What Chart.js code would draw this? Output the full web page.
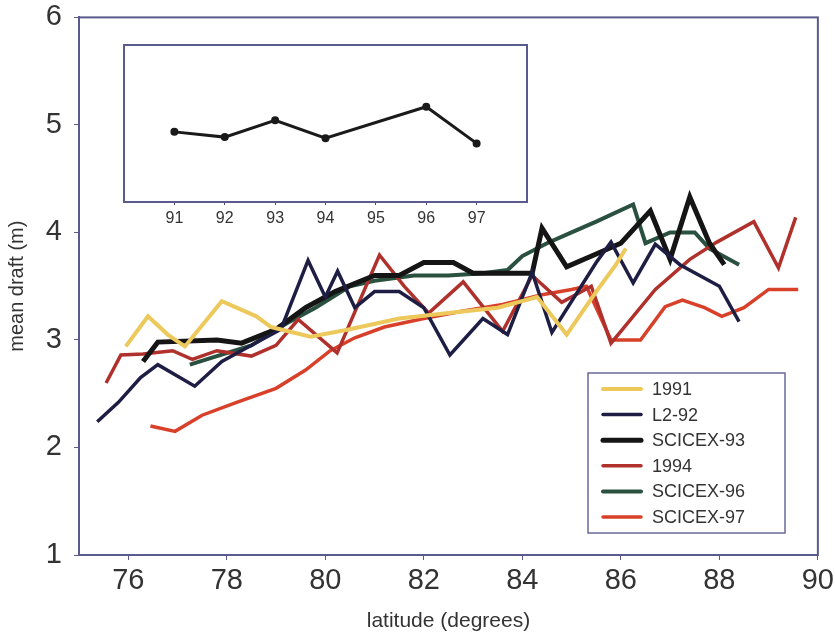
<!DOCTYPE html>
<html>
<head>
<meta charset="utf-8">
<script src="https://cdn.jsdelivr.net/npm/chart.js@4.4.1/dist/chart.umd.min.js"></script>
<style>
  html, body { margin: 0; padding: 0; background: #fff; overflow: hidden; }
  #wrap { position: relative; width: 835px; height: 642px; overflow: hidden; }
  #mainChart { position: absolute; left: 0; top: -12px; }
  #insetChart { position: absolute; left: 100px; top: 30px; }
</style>
</head>
<body>
<div id="wrap">
  <canvas id="mainChart" width="838" height="654"></canvas>
  <canvas id="insetChart" width="450" height="200"></canvas>
</div>
<script>
// Series: latitude (degrees) and mean draft (m)
const lat1991 = [75.95, 76.4, 76.8, 77.15, 77.9, 78.6, 78.9, 79.7, 80.5, 81.5, 82.5, 83.5, 84.3, 84.9, 85.5, 85.9, 86.1];
const draft1991 = [2.94, 3.22, 3.05, 2.94, 3.36, 3.22, 3.12, 3.03, 3.1, 3.2, 3.25, 3.3, 3.4, 3.05, 3.45, 3.7, 3.85];

const latL292 = [75.37, 75.8, 76.25, 76.6, 77.35, 77.9, 78.5, 79.1, 79.65, 80.0, 80.25, 80.6, 81.0, 81.5, 82.0, 82.53, 83.2, 83.7, 84.2, 84.6, 85.5, 85.8, 86.25, 86.7, 87.2, 88.0, 88.4];
const draftL292 = [2.24, 2.42, 2.65, 2.77, 2.57, 2.8, 2.95, 3.1, 3.74, 3.4, 3.64, 3.3, 3.45, 3.45, 3.3, 2.86, 3.2, 3.05, 3.63, 3.07, 3.72, 3.91, 3.53, 3.89, 3.7, 3.5, 3.17];

const lat93 = [76.3, 76.6, 77.8, 78.3, 79.0, 79.6, 80.2, 81.0, 81.5, 82.0, 82.6, 83.0, 84.2, 84.4, 84.9, 85.5, 86.0, 86.6, 87.0, 87.4, 87.8, 88.1];
const draft93 = [2.8, 2.98, 3.0, 2.97, 3.1, 3.3, 3.45, 3.6, 3.6, 3.72, 3.72, 3.62, 3.62, 4.04, 3.68, 3.8, 3.9, 4.2, 3.75, 4.33, 3.9, 3.7];

const lat1994 = [75.55, 75.85, 76.3, 76.9, 77.3, 77.8, 78.5, 79.0, 79.45, 80.24, 81.1, 81.6, 82.1, 82.8, 83.6, 84.2, 84.8, 85.4, 85.8, 86.0, 86.7, 87.4, 87.95, 88.7, 89.2, 89.55];
const draft1994 = [2.6, 2.86, 2.87, 2.9, 2.82, 2.9, 2.85, 2.95, 3.19, 2.88, 3.79, 3.5, 3.25, 3.54, 3.08, 3.6, 3.35, 3.5, 2.97, 3.08, 3.47, 3.75, 3.91, 4.1, 3.67, 4.14];

const lat96 = [77.25, 77.8, 78.5, 79.2, 79.8, 80.5, 81.0, 81.8, 82.5, 83.2, 83.7, 84.0, 84.5, 85.0, 85.5, 86.25, 86.5, 87.0, 87.5, 87.8, 88.0, 88.4];
const draft96 = [2.77, 2.85, 2.95, 3.15, 3.3, 3.5, 3.55, 3.6, 3.6, 3.62, 3.65, 3.78, 3.9, 4.0, 4.1, 4.26, 3.9, 4.0, 4.0, 3.85, 3.8, 3.7];

const lat97 = [76.45, 76.95, 77.5, 78.2, 79.0, 79.6, 80.1, 80.6, 81.2, 82.0, 82.8, 83.6, 84.4, 85.0, 85.3, 85.8, 86.4, 86.9, 87.25, 87.7, 88.05, 88.5, 89.0, 89.6];
const draft97 = [2.2, 2.15, 2.3, 2.42, 2.55, 2.72, 2.9, 3.02, 3.12, 3.2, 3.27, 3.33, 3.42, 3.47, 3.5, 3.0, 3.0, 3.31, 3.37, 3.3, 3.22, 3.3, 3.47, 3.47];

const seriesNames = ['1991', 'L2-92', 'SCICEX-93', '1994', 'SCICEX-96', 'SCICEX-97'];

// Inset: yearly mean
const insetYears = [91, 92, 93, 94, 96, 97];
const insetDraft = [3.27, 3.22, 3.38, 3.21, 3.51, 3.16];
const insetTicks = [91, 92, 93, 94, 95, 96, 97];

const xTicks = [76, 78, 80, 82, 84, 86, 88, 90];
const yTicks = [1, 2, 3, 4, 5, 6];

const AXIS = '#5a5a8e';
const FONT = "'Liberation Sans', Arial, sans-serif";

function pts(xs, ys) {
    return xs.map((x, i) => ({ x: x, y: ys[i] }));
}

const styles = [
    { color: '#ecc95a', width: 4 },
    { color: '#1e1e44', width: 3.5 },
    { color: '#151515', width: 5 },
    { color: '#b0302c', width: 3.5 },
    { color: '#2a5040', width: 4 },
    { color: '#d8402a', width: 3.5 }
];
const allData = [
    pts(lat1991, draft1991),
    pts(latL292, draftL292),
    pts(lat93, draft93),
    pts(lat1994, draft1994),
    pts(lat96, draft96),
    pts(lat97, draft97)
];

// Frame on top and right of the plot area
const framePlugin = {
    id: 'frame',
    afterDraw(chart) {
        const a = chart.chartArea;
        const c = chart.ctx;
        c.save();
        c.strokeStyle = AXIS;
        c.lineWidth = 2;
        c.strokeRect(a.left, a.top, a.right - a.left, a.bottom - a.top);
        c.restore();
    }
};

// Legend box in the lower right (canvas is shifted up by 12px)
const legendBox = {
    id: 'legendBox',
    afterDraw(chart) {
        const c = chart.ctx;
        const dy = 12;
        c.save();
        c.fillStyle = '#fff';
        c.fillRect(588, 373 + dy, 197, 160);
        c.strokeStyle = '#6a6a9a';
        c.lineWidth = 1.5;
        c.strokeRect(588, 373 + dy, 197, 160);
        c.font = '18px ' + FONT;
        c.textBaseline = 'middle';
        seriesNames.forEach((name, i) => {
            const y = 389 + dy + i * 25.6;
            c.strokeStyle = styles[i].color;
            c.lineWidth = styles[i].width;
            c.lineCap = 'round';
            c.beginPath();
            c.moveTo(603, y);
            c.lineTo(641, y);
            c.stroke();
            c.fillStyle = '#333';
            c.fillText(name, 652, y + 1);
        });
        c.restore();
    }
};

new Chart(document.getElementById('mainChart'), {
    type: 'line',
    data: {
        datasets: seriesNames.map((name, i) => ({
            label: name,
            data: allData[i],
            borderColor: styles[i].color,
            borderWidth: styles[i].width,
            pointRadius: 0,
            tension: 0,
            fill: false
        }))
    },
    options: {
        responsive: false,
        animation: false,
        layout: { padding: { left: 0, top: 6, right: 11, bottom: 0 } },
        plugins: { legend: { display: false }, tooltip: { enabled: false } },
        scales: {
            x: {
                type: 'linear',
                min: 75,
                max: 90,
                afterBuildTicks: s => { s.ticks = xTicks.map(v => ({ value: v })); },
                afterFit: s => { s.height = 87; },
                ticks: { font: { size: 29, family: FONT }, color: '#333', padding: 4, maxRotation: 0 },
                grid: { drawOnChartArea: false, tickLength: 5, color: AXIS },
                border: { color: AXIS, width: 2 },
                title: { display: true, text: 'latitude (degrees)', font: { size: 21, family: FONT, lineHeight: 1.97 }, color: '#333', padding: 0 }
            },
            y: {
                min: 1,
                max: 6,
                afterBuildTicks: s => { s.ticks = yTicks.map(v => ({ value: v })); },
                afterFit: s => { s.width = 79; },
                ticks: { font: { size: 29, family: FONT }, color: '#333', padding: 12 },
                grid: { drawOnChartArea: false, tickLength: 5, color: AXIS },
                border: { color: AXIS, width: 2 },
                title: { display: true, text: 'mean draft (m)', font: { size: 20, family: FONT, lineHeight: 1.7 }, color: '#333', padding: 0 }
            }
        }
    },
    plugins: [framePlugin, legendBox]
});

new Chart(document.getElementById('insetChart'), {
    type: 'line',
    data: {
        datasets: [{
            data: pts(insetYears, insetDraft),
            borderColor: '#1a1a1a',
            backgroundColor: '#1a1a1a',
            borderWidth: 3,
            pointRadius: 2.5,
            tension: 0
        }]
    },
    options: {
        responsive: false,
        animation: false,
        layout: { padding: { left: 24, top: 15, right: 23, bottom: 0 } },
        plugins: { legend: { display: false }, tooltip: { enabled: false } },
        scales: {
            x: {
                type: 'linear',
                min: 90,
                max: 98,
                afterBuildTicks: s => { s.ticks = insetTicks.map(v => ({ value: v })); },
                afterFit: s => { s.height = 28; },
                ticks: { font: { size: 16, family: FONT }, color: '#333', padding: 4, maxRotation: 0 },
                grid: { drawOnChartArea: false, tickLength: 3, color: '#4a4a80' },
                border: { color: '#4a4a80', width: 2 }
            },
            y: {
                display: false,
                min: 2.6,
                max: 4.1
            }
        }
    },
    plugins: [framePlugin]
});
</script>
</body>
</html>
